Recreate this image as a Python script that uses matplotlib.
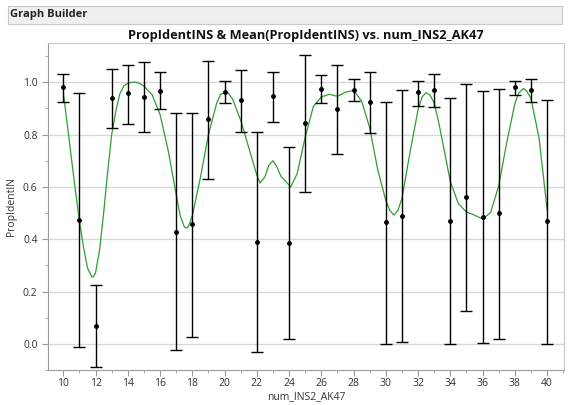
import numpy as np
import matplotlib
matplotlib.use("Agg")
import matplotlib.pyplot as plt
from matplotlib.patches import Rectangle
from matplotlib.ticker import MultipleLocator, FormatStrFormatter

plt.rcParams['font.family'] = ['Open Sans', 'DejaVu Sans']

# ---- data ----
x_vals = list(range(10, 41))
means = [0.98, 0.473, 0.07, 0.94, 0.957, 0.945, 0.968, 0.429, 0.458, 0.858,
         0.964, 0.931, 0.389, 0.947, 0.387, 0.844, 0.973, 0.896, 0.971, 0.924,
         0.466, 0.49, 0.961, 0.971, 0.471, 0.56, 0.485, 0.499, 0.98, 0.971, 0.468]
upper = [1.03, 0.958, 0.224, 1.051, 1.066, 1.079, 1.038, 0.883, 0.883, 1.083,
         1.006, 1.048, 0.808, 1.04, 0.752, 1.103, 1.026, 1.066, 1.013, 1.041,
         0.925, 0.972, 1.006, 1.033, 0.938, 0.995, 0.966, 0.976, 1.003, 1.013, 0.934]
lower = [0.925, -0.013, -0.088, 0.826, 0.842, 0.809, 0.896, -0.025, 0.027, 0.629,
         0.922, 0.81, -0.032, 0.847, 0.019, 0.58, 0.922, 0.725, 0.927, 0.805,
         0.001, 0.006, 0.911, 0.907, 0.0, 0.125, 0.003, 0.018, 0.952, 0.926, 0.0]

# smoother curve, values
smooth_x = [10, 10.25, 10.5, 10.75, 11, 11.25, 11.5, 11.75, 11.85, 12, 12.25,
            12.5, 12.75, 13, 13.25, 13.5, 13.75, 14, 14.25, 14.5, 14.75, 15,
            15.5, 16, 16.5, 17, 17.25, 17.5, 17.65, 17.75, 18, 18.5, 19, 19.5,
            19.75, 20.1, 20.25, 20.5, 21, 21.5, 22, 22.2, 22.5, 22.75, 23, 23.25,
            23.5, 24.1, 24.5, 25, 25.5, 26, 26.5, 27, 27.5, 28, 28.5, 29, 29.5,
            30, 30.25, 30.5, 30.75, 31, 31.5, 32, 32.25, 32.5, 32.75, 33, 33.25,
            33.5, 34, 34.5, 35, 35.5, 36, 36.5, 37, 37.5, 38, 38.25, 38.55,
            38.75, 39, 39.5, 40]
smooth_y = [0.96, 0.836, 0.71, 0.587, 0.47, 0.37, 0.29, 0.258, 0.255, 0.272,
            0.36, 0.50, 0.657, 0.80, 0.887, 0.955, 0.986, 0.996, 1.0, 1.0, 0.995,
            0.985, 0.953, 0.877, 0.74, 0.57, 0.49, 0.448, 0.443, 0.447, 0.49,
            0.635, 0.80, 0.918, 0.953, 0.964, 0.957, 0.935, 0.855, 0.75, 0.645,
            0.615, 0.638, 0.683, 0.70, 0.676, 0.64, 0.60, 0.65, 0.79, 0.906,
            0.944, 0.954, 0.946, 0.962, 0.969, 0.928, 0.826, 0.665, 0.548, 0.51,
            0.492, 0.51, 0.556, 0.732, 0.895, 0.944, 0.96, 0.95, 0.92, 0.855,
            0.778, 0.62, 0.536, 0.504, 0.492, 0.477, 0.502, 0.604, 0.77, 0.918,
            0.96, 0.976, 0.965, 0.938, 0.788, 0.515]

# ---- figure ----
fig = plt.figure(figsize=(5.68, 4.05), dpi=100)

# header bar
fig.patches.append(Rectangle((8 / 568, 1 - 24 / 405), 554 / 568, 18 / 405,
                             transform=fig.transFigure, facecolor='#f0f0f0',
                             edgecolor='#c8c8c8', linewidth=0.8))
fig.text(10 / 568, 1 - 15 / 405, "Graph Builder", fontsize=8, fontweight='bold',
         color='#222222', va='center', ha='left')

ax = fig.add_axes([48 / 568, 1 - 370 / 405, 516 / 568, 327 / 405])

yerr = [np.array(means) - np.array(lower), np.array(upper) - np.array(means)]
ax.errorbar(x_vals, means, yerr=yerr, fmt='o', color='black', markersize=2.5,
            elinewidth=1.0, capsize=4, capthick=1.0, zorder=3)
ax.plot(smooth_x, smooth_y, color='#2e9e2e', linewidth=0.9, zorder=2)

ax.set_xlim(9.05, 41.05)
ax.set_ylim(-0.1, 1.15)
ax.xaxis.set_major_locator(MultipleLocator(2))
ax.xaxis.set_minor_locator(MultipleLocator(1))
ax.yaxis.set_major_locator(MultipleLocator(0.2))
ax.yaxis.set_minor_locator(MultipleLocator(0.1))
ax.yaxis.set_major_formatter(FormatStrFormatter('%.1f'))
ax.grid(axis='y', which='major', color='#d8d8d8', linewidth=1.0, zorder=0)
ax.set_axisbelow(True)

for side in ['left', 'bottom']:
    ax.spines[side].set_color('#9a9a9a')
for side in ['top', 'right']:
    ax.spines[side].set_color('#c8c8c8')
ax.tick_params(which='both', colors='#9a9a9a', labelcolor='#333333', labelsize=7.5)
ax.tick_params(which='major', length=4)
ax.tick_params(which='minor', length=2.5)
ax.tick_params(axis='x', which='major', pad=2)

ax.set_xlabel("num_INS2_AK47", fontsize=7.5, color='#333333', labelpad=1)
ax.set_ylabel("PropIdentIN", fontsize=7.5, color='#333333', labelpad=4)
ax.set_title("PropIdentINS & Mean(PropIdentINS) vs. num_INS2_AK47", fontsize=9.2,
             fontweight='bold', color='#111111', pad=3)

fig.savefig("out.png", dpi=100)
